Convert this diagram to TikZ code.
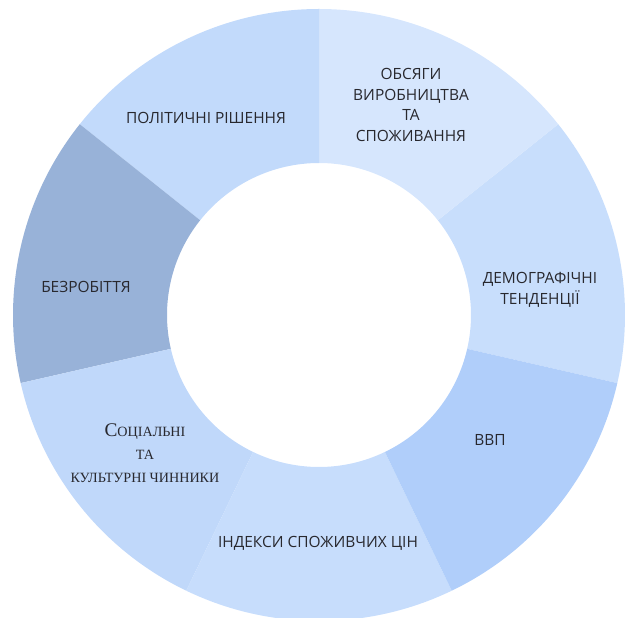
\documentclass[tikz,border=0pt]{standalone}
\usepackage{fontspec}
\setmainfont{Open Sans}
\newfontfamily\scfont{Liberation Serif}
\definecolor{textgray}{RGB}{40,40,46}
\definecolor{demcol}{RGB}{200,222,252}
\definecolor{outcol}{RGB}{214,230,253}
\definecolor{polcol}{RGB}{194,218,251}
\definecolor{unecol}{RGB}{152,178,216}
\definecolor{soccol}{RGB}{192,216,250}
\definecolor{pricol}{RGB}{199,221,252}
\definecolor{gdpcol}{RGB}{176,206,250}
\newcommand\minisc[1]{{\fontsize{10.6pt}{17pt}\selectfont\MakeUppercase{#1}}}
\begin{document}
\begin{tikzpicture}[x=0.75pt, y=0.75pt,
    segtext/.style={text=textgray, font=\fontsize{11.6pt}{15.3pt}\selectfont, align=center},
    sctext/.style={text=textgray, font=\scfont\fontsize{14.5pt}{17pt}\selectfont, align=center}]
    \clip (-319,-302) rectangle (308,315);
    % Ring segments
    \foreach \a/\b/\c in {-12.86/38.57/demcol, 38.57/90/outcol, 90/141.43/polcol,
        141.43/192.86/unecol, 192.86/244.29/soccol, 244.29/295.71/pricol, 295.71/347.14/gdpcol}
        \fill[\c] (\a:152) -- (\a:306) arc[start angle=\a, end angle=\b, radius=306]
            -- (\b:152) arc[start angle=\b, end angle=\a, radius=152] -- cycle;
    % Labels
    \node[segtext] (politics) at (-113,197) {ПОЛІТИЧНІ РІШЕННЯ};
    \node[segtext] (output) at (92,210) {ОБСЯГИ\\ВИРОБНИЦТВА\\ТА\\СПОЖИВАННЯ};
    \node[segtext] (demography) at (221,25) {ДЕМОГРАФІЧНІ\\ТЕНДЕНЦІЇ};
    \node[segtext] (gdp) at (171,-125) {ВВП};
    \node[segtext] (prices) at (-1,-228) {ІНДЕКСИ СПОЖИВЧИХ ЦІН};
    \node[sctext] (social) at (-174,-138) {С\minisc{оціальні}\\\minisc{та}\\\minisc{культурні чинники}};
    \node[segtext] (unemployment) at (-233,28) {БЕЗРОБІТТЯ};
\end{tikzpicture}
\end{document}
